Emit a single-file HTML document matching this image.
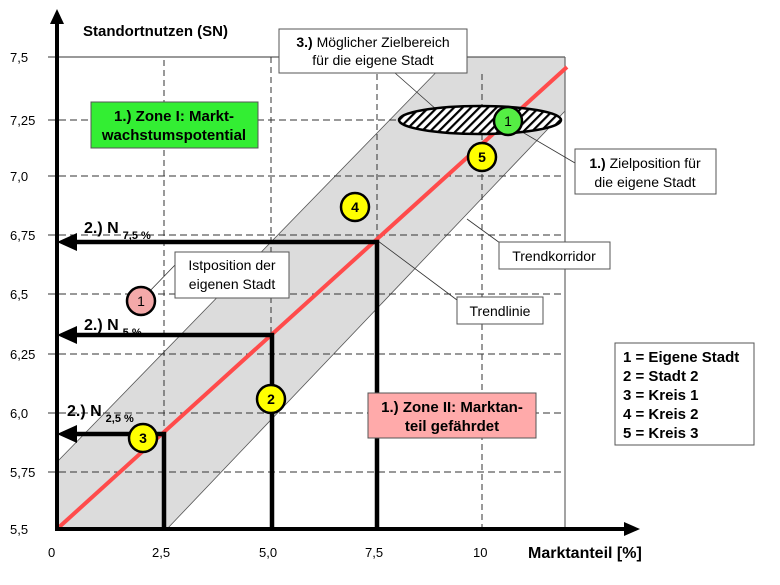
<!DOCTYPE html>
<html><head><meta charset="utf-8"><style>
html,body{margin:0;padding:0;background:#fff;}
svg{display:block;}
text{font-family:"Liberation Sans",Arial,sans-serif;}
</style></head><body>
<svg width="780" height="585" viewBox="0 0 780 585" xmlns="http://www.w3.org/2000/svg">
<defs>
<pattern id="hatch" patternUnits="userSpaceOnUse" width="6" height="6" patternTransform="rotate(45)">
<rect width="6" height="6" fill="#fff"/><rect width="2.2" height="6" fill="#000"/>
</pattern>
</defs>
<polygon points="57,529 167,529 565,111 565,57 451,57 57,462" fill="#dcdcdc"/>
<line x1="57" y1="462" x2="451" y2="57" stroke="#555" stroke-width="0.8"/>
<line x1="167" y1="529" x2="565" y2="111" stroke="#555" stroke-width="0.8"/>
<g stroke="#333" stroke-width="1" stroke-dasharray="7,4" fill="none">
<line x1="48" y1="120" x2="565" y2="120"/>
<line x1="48" y1="176" x2="565" y2="176"/>
<line x1="48" y1="235" x2="565" y2="235"/>
<line x1="48" y1="294" x2="565" y2="294"/>
<line x1="48" y1="354" x2="565" y2="354"/>
<line x1="48" y1="413" x2="565" y2="413"/>
<line x1="48" y1="472" x2="565" y2="472"/>
</g>
<g stroke="#333" stroke-width="1" stroke-dasharray="6,4" fill="none">
<line x1="164" y1="60" x2="164" y2="529"/>
<line x1="271" y1="57" x2="271" y2="529"/>
<line x1="377" y1="74" x2="377" y2="529"/>
<line x1="482" y1="74" x2="482" y2="529"/>
</g>
<line x1="48" y1="57" x2="565" y2="57" stroke="#333" stroke-width="1"/>
<line x1="565" y1="57" x2="565" y2="529" stroke="#666" stroke-width="1.2"/>
<g stroke="#333" stroke-width="0.8">
<line x1="395" y1="73" x2="437" y2="110"/>
<line x1="575" y1="163" x2="512" y2="126"/>
<line x1="500" y1="243" x2="467" y2="219"/>
<line x1="457" y1="300" x2="378" y2="241"/>
<line x1="175" y1="265" x2="146" y2="295"/>
</g>
<line x1="57" y1="529" x2="567" y2="67" stroke="#ff4b4b" stroke-width="4"/>
<g stroke="#000" stroke-width="4.5" fill="none">
<polyline points="72,242 377,242 377,529"/>
<polyline points="72,335 272,335 272,529"/>
<polyline points="72,434 164,434 164,529"/>
</g>
<g fill="#000">
<polygon points="57,242 77,233 77,251"/>
<polygon points="57,335 77,326 77,344"/>
<polygon points="57,434 77,425 77,443"/>
</g>
<line x1="57" y1="22" x2="57" y2="531" stroke="#000" stroke-width="4"/>
<polygon points="57,9 50,24 64,24" fill="#000"/>
<line x1="55" y1="529" x2="626" y2="529" stroke="#000" stroke-width="4"/>
<polygon points="640,529 624,522 624,536" fill="#000"/>
<ellipse cx="480" cy="120" rx="81" ry="14" fill="url(#hatch)" stroke="#000" stroke-width="2.5"/>
<g stroke="#000" stroke-width="2.5" font-size="14" font-weight="bold" text-anchor="middle">
<circle cx="141" cy="301" r="14" fill="#f4a9a9"/><text x="141" y="306" stroke="none" font-weight="normal">1</text>
<circle cx="271" cy="399" r="14" fill="#ffff00"/><text x="271" y="404" stroke="none">2</text>
<circle cx="143" cy="438" r="14" fill="#ffff00"/><text x="143" y="443" stroke="none">3</text>
<circle cx="355" cy="207" r="14" fill="#ffff00"/><text x="355" y="212" stroke="none">4</text>
<circle cx="482" cy="157" r="14" fill="#ffff00"/><text x="482" y="162" stroke="none">5</text>
<circle cx="508" cy="121" r="14" fill="#55ee44"/><text x="508" y="126" stroke="none" font-weight="normal">1</text>
</g>
<g stroke="#555" stroke-width="1">
<rect x="279" y="29" width="188" height="44" fill="#fff"/>
<rect x="91" y="102" width="167" height="46" fill="#33ee33"/>
<rect x="175" y="252" width="114" height="46" fill="#fff"/>
<rect x="575" y="149" width="141" height="45" fill="#fff"/>
<rect x="499" y="242" width="111" height="27" fill="#fff"/>
<rect x="457" y="297" width="86" height="27" fill="#fff"/>
<rect x="368" y="393" width="168" height="45" fill="#ffaaaa"/>
<rect x="615" y="343" width="139" height="102" fill="#fff"/>
</g>
<g font-size="14" fill="#000">
<text x="373" y="47" text-anchor="middle"><tspan font-weight="bold">3.)</tspan> Möglicher Zielbereich</text>
<text x="373" y="65" text-anchor="middle">für die eigene Stadt</text>
<text x="174" y="121" text-anchor="middle" font-weight="bold" font-size="15">1.) Zone I: Markt-</text>
<text x="174" y="140" text-anchor="middle" font-weight="bold" font-size="15">wachstumspotential</text>
<text x="232" y="270" text-anchor="middle">Istposition der</text>
<text x="232" y="289" text-anchor="middle">eigenen Stadt</text>
<text x="645" y="168" text-anchor="middle"><tspan font-weight="bold">1.)</tspan> Zielposition für</text>
<text x="645" y="187" text-anchor="middle">die eigene Stadt</text>
<text x="554" y="261" text-anchor="middle">Trendkorridor</text>
<text x="500" y="316" text-anchor="middle">Trendlinie</text>
<text x="452" y="412" text-anchor="middle" font-weight="bold" font-size="15">1.) Zone II: Marktan-</text>
<text x="452" y="431" text-anchor="middle" font-weight="bold" font-size="15">teil gefährdet</text>
<g font-weight="bold">
<text x="623" y="362" font-size="15">1 = Eigene Stadt</text>
<text x="623" y="381" font-size="15">2 = Stadt 2</text>
<text x="623" y="400" font-size="15">3 = Kreis 1</text>
<text x="623" y="419" font-size="15">4 = Kreis 2</text>
<text x="623" y="438" font-size="15">5 = Kreis 3</text>
<text x="83" y="36" font-size="15">Standortnutzen (SN)</text>
<text x="528" y="558" font-size="16">Marktanteil [%]</text>
</g>
<text x="84" y="233" font-weight="bold" font-size="16">2.) N<tspan font-size="11" dx="4" dy="6">7,5 %</tspan></text>
<text x="84" y="330" font-weight="bold" font-size="16">2.) N<tspan font-size="11" dx="4" dy="6">5 %</tspan></text>
<text x="67" y="416" font-weight="bold" font-size="16">2.) N<tspan font-size="11" dx="4" dy="6">2,5 %</tspan></text>
</g>
<g font-size="13" fill="#000">
<text x="10" y="62">7,5</text>
<text x="10" y="125">7,25</text>
<text x="10" y="181">7,0</text>
<text x="10" y="240">6,75</text>
<text x="10" y="299">6,5</text>
<text x="10" y="359">6,25</text>
<text x="10" y="418">6,0</text>
<text x="10" y="477">5,75</text>
<text x="10" y="534">5,5</text>
<text x="48" y="557">0</text>
<text x="152" y="557">2,5</text>
<text x="259" y="557">5,0</text>
<text x="365" y="557">7,5</text>
<text x="473" y="557">10</text>
</g>
</svg>
</body></html>
